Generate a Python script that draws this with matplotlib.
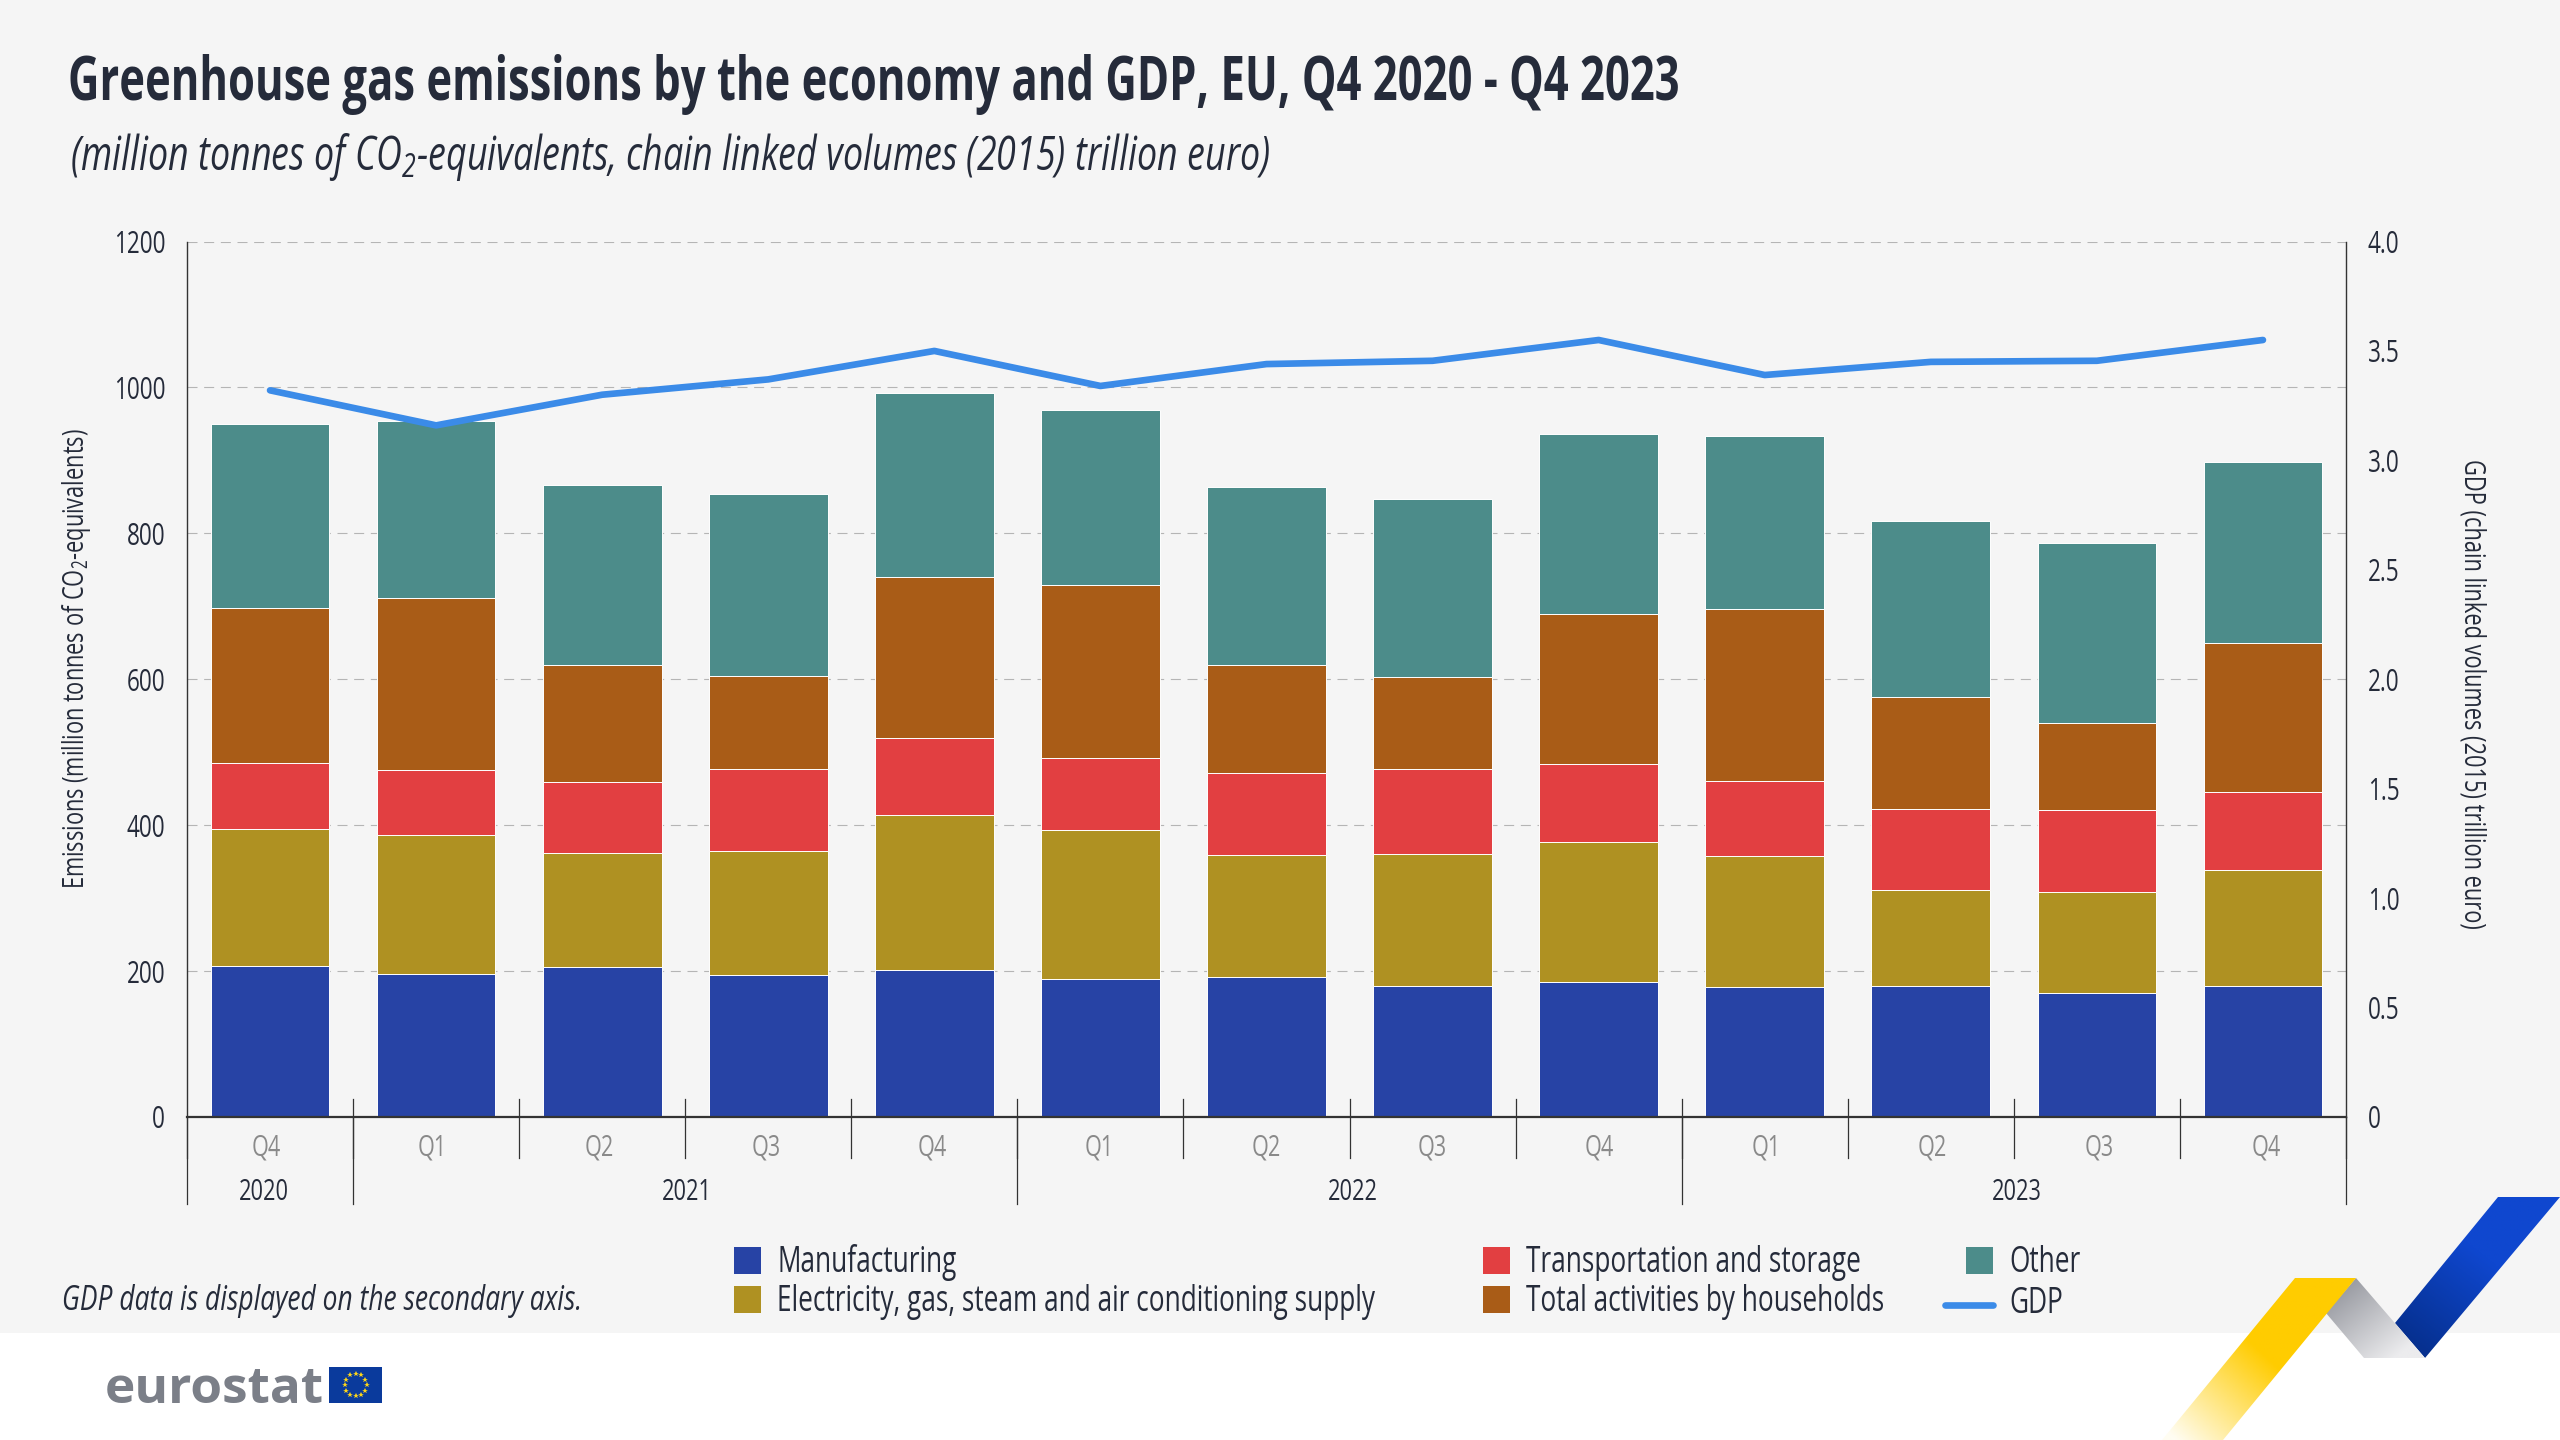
import os
import numpy as np
import matplotlib
matplotlib.use("Agg")
import matplotlib.pyplot as plt
from matplotlib.patches import Polygon, Rectangle
from matplotlib.lines import Line2D
from matplotlib.colors import LinearSegmentedColormap
from matplotlib import font_manager as fm
from matplotlib.font_manager import FontProperties

quarters = ["Q4", "Q1", "Q2", "Q3", "Q4", "Q1", "Q2", "Q3", "Q4", "Q1", "Q2", "Q3", "Q4"]
years = ["2020", "2021", "2022", "2023"]
year_spans = [1, 4, 4, 4]
manufacturing = [207, 196, 206, 194, 202, 189, 192, 179, 185, 178, 180, 170, 179]
electricity = [188, 191, 156, 171, 212, 205, 167, 181, 192, 180, 131, 138, 159]
transport = [90, 88, 97, 112, 105, 98, 112, 117, 107, 102, 111, 113, 107]
households = [213, 236, 160, 127, 221, 237, 149, 126, 206, 236, 153, 119, 205]
other = [252, 243, 247, 250, 253, 240, 243, 244, 246, 237, 242, 247, 248]
gdp = [3.32, 3.16, 3.30, 3.37, 3.50, 3.34, 3.44, 3.455, 3.55, 3.39, 3.45, 3.455, 3.55]
series_names = ["Manufacturing", "Electricity, gas, steam and air conditioning supply",
                "Transportation and storage", "Total activities by households", "Other"]
colors = ["#2743A5", "#AF9122", "#E23F41", "#A95C17", "#4C8C8A"]
GDP_COLOR = "#3B8BE8"
INK = "#252B3A"
W, H = 2560, 1440


def make_font(weight, style, scale, newname, family="Open Sans"):
    """Write a horizontally condensed copy of an installed font, so text stays real text."""
    from fontTools.ttLib import TTFont
    from fontTools.varLib import instancer
    path = fm.findfont(FontProperties(family=family, weight=weight, style=style))
    f = TTFont(path)
    if "fvar" in f:
        axes = {a.axisTag: a.defaultValue for a in f["fvar"].axes}
        if "wght" in axes:
            axes["wght"] = 700 if weight == "bold" else 400
        f = instancer.instantiateVariableFont(f, axes)
    glyf, hmtx = f["glyf"], f["hmtx"]
    for name in f.getGlyphOrder():
        g = glyf[name]
        if g.isComposite():
            for c in g.components:
                c.x = round(c.x * scale)
        elif g.numberOfContours > 0:
            g.coordinates.scale((scale, 1))
            g.coordinates.toInt()
        g.removeHinting()
        adv, lsb = hmtx[name]
        hmtx[name] = (round(adv * scale), round(lsb * scale))
    for tag in ["fpgm", "prep", "cvt ", "hdmx", "VDMX", "LTSH", "GPOS", "GSUB", "GDEF", "kern", "STAT", "DSIG",
                "gasp"]:
        if tag in f:
            del f[tag]
    nm = f["name"]
    nm.names = [r for r in nm.names if r.nameID not in (16, 17, 21, 22, 25)]
    for r in nm.names:
        if r.nameID in (1, 4):
            r.string = newname
        elif r.nameID == 6:
            r.string = newname.replace(" ", "")
        elif r.nameID == 2:
            r.string = "Regular"
    f["OS/2"].usWeightClass = 400
    f["OS/2"].fsSelection = (f["OS/2"].fsSelection & ~0x21) | 0x40
    f["head"].macStyle = 0
    f["post"].italicAngle = 0
    out = os.path.abspath(newname.replace(" ", "") + ".ttf")
    f.save(out)
    fm.fontManager.addfont(out)
    return newname


try:
    F_REG = make_font("normal", "normal", 0.72, "Cond Regular")
    F_BOLD = make_font("bold", "normal", 0.72, "Cond Bold")
    F_ITAL = make_font("normal", "italic", 0.75, "Cond Italic")
except Exception:
    F_REG = F_BOLD = F_ITAL = "Roboto"

plt.rcParams["font.family"] = [F_REG, "DejaVu Sans"]
plt.rcParams["mathtext.default"] = "regular"

fig = plt.figure(figsize=(W / 200, H / 200), dpi=200, facecolor="white")
bg = fig.add_axes([0, 0, 1, 1], zorder=0)
bg.set_xlim(0, W); bg.set_ylim(H, 0); bg.axis("off")
bg.add_patch(Rectangle((0, 0), W, 1333, fc="#F5F5F5", ec="none"))

PH = 1117 - 241.5
ax = fig.add_axes([187 / W, 1 - 1117 / H, (2346 - 187) / W, PH / H], zorder=2)
ax.patch.set_alpha(0)
x = np.arange(len(quarters))
bottom = np.zeros(len(quarters))
for vals, c in zip([manufacturing, electricity, transport, households, other], colors):
    ax.bar(x, vals, 0.715, bottom=bottom, color=c, edgecolor="white", linewidth=0.35, zorder=3)
    bottom += np.array(vals)
ax.set_xlim(-0.5, len(quarters) - 0.5)
ax.set_ylim(0, 1200)
ax.set_yticks(np.arange(0, 1201, 200))
ax.grid(axis="y", color="#B5B5B5", lw=0.4, ls=(0, (9, 6)), zorder=1)
ax.set_axisbelow(True)
ax.tick_params(axis="y", length=0, labelsize=11.3, labelcolor=INK, pad=7.9)
ax.set_xticks([])
for s in ["top", "right"]:
    ax.spines[s].set_visible(False)
ax.spines["left"].set_linewidth(0.5); ax.spines["left"].set_color("#333333")
ax.spines["bottom"].set_linewidth(0.8); ax.spines["bottom"].set_color("#333333")
ax.spines["bottom"].set_zorder(5)

ax2 = ax.twinx()
ax2.patch.set_alpha(0)
ax2.plot(x, gdp, color=GDP_COLOR, lw=2.4, zorder=6, solid_capstyle="round", solid_joinstyle="round")
ax2.set_ylim(0, 4)
ax2.set_yticks(np.arange(0, 4.01, 0.5))
ax2.set_yticklabels(["0"] + [f"{v:.1f}" for v in np.arange(0.5, 4.01, 0.5)])
ax2.tick_params(axis="y", length=0, labelsize=11.3, labelcolor=INK, pad=7.9)
for s in ["top", "left", "bottom"]:
    ax2.spines[s].set_visible(False)
ax2.spines["right"].set_linewidth(0.5); ax2.spines["right"].set_color("#333333")

# axis titles
bg.text(77, 659, "Emissions (million tonnes of CO$_2$-equivalents)", rotation=90, ha="center", va="center",
        fontsize=10.9, color=INK)
bg.text(2472, 694, "GDP (chain linked volumes (2015) trillion euro)", rotation=270, ha="center", va="center",
        fontsize=10.9, color=INK)

# multi-level category axis
tr = ax.get_xaxis_transform()
up, q_down, y_down = 18 / PH, -41 / PH, -87 / PH
for i in range(len(quarters) + 1):
    ax.plot([i - 0.5, i - 0.5], [up if 0 < i < len(quarters) else 0, q_down], transform=tr, color="#333333",
            lw=0.45, clip_on=False, zorder=2)
for xi, q in zip(x, quarters):
    ax.text(xi - 0.025 + 0.0035 * xi, -38.5 / PH, q, transform=tr, ha="center", va="baseline", fontsize=10.8,
            color="#8A8A8A")
pos = -0.5
year_nudge = [-0.04, 0.01, 0.02, 0.02]
for y, span, nudge in zip(years, year_spans, year_nudge):
    ax.plot([pos, pos], [0, y_down], transform=tr, color="#333333", lw=0.45, clip_on=False, zorder=2)
    ax.text(pos + span / 2 + nudge, -83 / PH, y, transform=tr, ha="center", va="baseline", fontsize=10.9, color=INK)
    pos += span
ax.plot([pos, pos], [0, y_down], transform=tr, color="#333333", lw=0.45, clip_on=False, zorder=2)

# titles and note
bg.text(68, 100, "Greenhouse gas emissions by the economy and GDP, EU, Q4 2020 - Q4 2023", fontsize=21.8,
        family=[F_BOLD, "DejaVu Sans"], color=INK, va="baseline")
bg.text(70, 170, "(million tonnes of CO$_2$-equivalents, chain linked volumes (2015) trillion euro)", fontsize=17.2,
        family=[F_ITAL, "DejaVu Sans"], color=INK, va="baseline")
bg.text(62, 1310, "GDP data is displayed on the secondary axis.", fontsize=12.7,
        family=[F_ITAL, "DejaVu Sans"], color=INK, va="baseline")

# legend
rows = [(734, 1247, 1272, 0), (734, 1286, 1311, 1), (1483, 1247, 1272, 2), (1483, 1286, 1311, 3), (1966, 1247, 1272, 4)]
for lx, top, base, k in rows:
    bg.add_patch(Rectangle((lx, top), 27, 27, fc=colors[k], ec="none"))
    bg.text(2009 if k == 4 else lx + 43, base, series_names[k], fontsize=13.1, color=INK, va="baseline")
bg.add_line(Line2D([1945, 1993], [1305, 1305], color=GDP_COLOR, lw=2.4, solid_capstyle="round"))
bg.text(2009, 1313, "GDP", fontsize=13.1, color=INK, va="baseline")

# logo
bg.text(105, 1403, "eurostat", fontsize=18.5, fontweight="bold", color="#7B7F88", va="baseline", family="Open Sans")
bg.add_patch(Rectangle((329, 1367), 53, 36, fc="#0A3A9C", ec="none"))
for a in np.linspace(0, 2 * np.pi, 12, endpoint=False):
    bg.plot(355.5 + 11 * np.cos(a), 1385 + 11 * np.sin(a), marker="*", ms=2.2, color="#FFD617", mew=0)


# ribbon decoration
def ribbon(pts, c_from, c_to, p0, p1):
    cmap = LinearSegmentedColormap.from_list("r", [c_from, c_to])
    xs = np.array([p[0] for p in pts]); ys = np.array([p[1] for p in pts])
    x0, x1, y0, y1 = xs.min(), xs.max(), ys.min(), ys.max()
    gx, gy = np.meshgrid(np.linspace(x0, x1, 128), np.linspace(y0, y1, 128))
    d = np.array(p1) - np.array(p0)
    t = ((gx - p0[0]) * d[0] + (gy - p0[1]) * d[1]) / (d @ d)
    im = bg.imshow(np.clip(t, 0, 1), extent=(x0, x1, y1, y0), cmap=cmap, vmin=0, vmax=1, zorder=3, aspect="auto")
    poly = Polygon(pts, closed=True, fc="none", ec="none", transform=bg.transData)
    bg.add_patch(poly)
    im.set_clip_path(poly)


ribbon([(2498, 1197), (2560, 1197), (2425, 1358), (2395, 1323)], "#0F47CF", "#06308F", (2490, 1260), (2420, 1350))
ribbon([(2356, 1278), (2425, 1358), (2364, 1358), (2326, 1313)], "#9A9CA3", "#ECECEE", (2340, 1290), (2395, 1358))
ribbon([(2295, 1278), (2356, 1278), (2223, 1440), (2162, 1440)], "#FFCC00", "#FFFDF2", (2260, 1350), (2175, 1440))
bg.set_xlim(0, W); bg.set_ylim(H, 0)

fig.savefig("out.png", dpi=200, facecolor="white")
